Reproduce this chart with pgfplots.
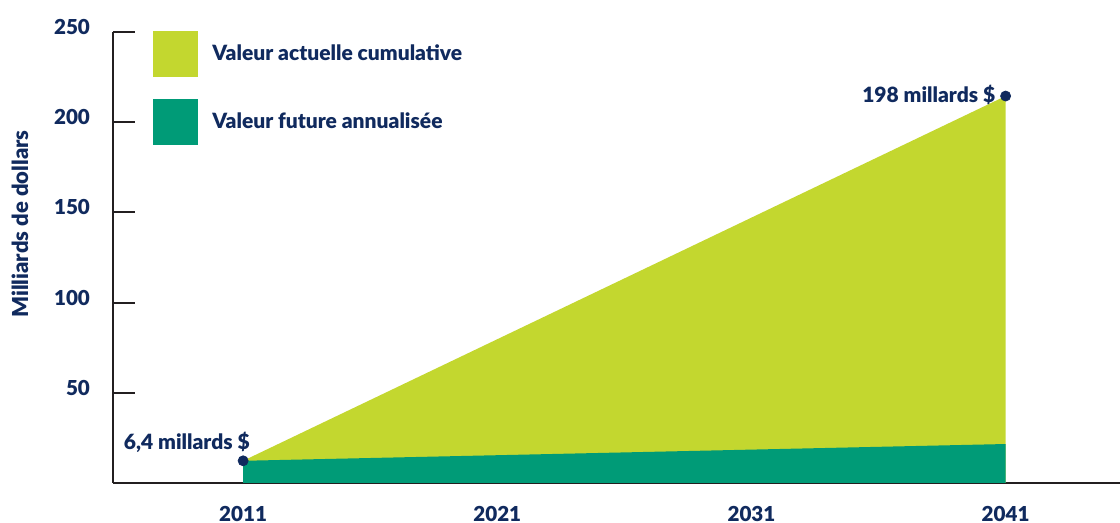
\documentclass[border=0pt]{standalone}
\usepackage{pgfplots}
\pgfplotsset{compat=1.18}
\usepackage{fontspec}
\setmainfont{Lato}[BoldFont={Lato Black}]
\definecolor{lime}{HTML}{C3D72F}
\definecolor{teal}{HTML}{009B77}
\definecolor{navy}{HTML}{102A5E}
\definecolor{axisgray}{HTML}{231F20}
\begin{document}
\begin{tikzpicture}
\useasboundingbox (-56.5pt,-20pt) rectangle (503.5pt,241.5pt);
\begin{axis}[
  at={(0,0)}, anchor=south west,
  scale only axis, width=503.5pt, height=225.5pt,
  xmin=2005.88, xmax=2045.5, ymin=0, ymax=250,
  enlargelimits=false,
  axis lines*=left,
  axis line style={axisgray, line width=1pt},
  clip=false,
  tick align=inside,
  major tick length=11pt,
  ytick={50,100,150,200,250},
  ytick style={axisgray, line width=1pt},
  xtick={2011,2021,2031,2041},
  xticklabels={2011,2021,2031,2041},
  xtick style={draw=none},
  /pgf/number format/assume math mode=true,
  ticklabel style={font=\fontsize{10.3}{12}\selectfont\bfseries, text=navy},
  yticklabel style={xshift=-8pt, yshift=2.5pt},
  xticklabel style={yshift=-8pt},
  ylabel={Milliards de dollars},
  ylabel style={at={(axis description cs:-0.0923,0.574)}, anchor=center,
    font=\fontsize{11}{12}\selectfont\bfseries, text=navy},
]
\addplot[fill=lime, draw=none] coordinates {(2011,0) (2011,12.3) (2041,214.5) (2041,0)} -- cycle;
\addplot[fill=teal, draw=none] coordinates {(2011,0) (2011,12.3) (2041,21.6) (2041,0)} -- cycle;
\addplot[only marks, mark=*, mark size=2.5pt, navy] coordinates {(2011,12.3) (2041,214.5)};
\node[anchor=base east, inner sep=0pt, xshift=3.5pt, yshift=5.5pt, text=navy,
  font=\fontsize{10.5}{12}\selectfont\bfseries] at (axis cs:2011,12.3) {6,4 millards \$};
\node[anchor=base east, inner sep=0pt, xshift=-5pt, yshift=-3pt, text=navy,
  font=\fontsize{10.5}{12}\selectfont\bfseries] at (axis cs:2041,214.5) {198 millards \$};
\end{axis}
% legend
\fill[lime] (20pt,226pt) rectangle (42.5pt,203pt);
\fill[teal] (20pt,192pt) rectangle (42.5pt,169pt);
\node[anchor=west, inner sep=0pt, text=navy, font=\fontsize{10.5}{12}\selectfont\bfseries]
  at (49.5pt,215pt) {Valeur actuelle cumulative};
\node[anchor=west, inner sep=0pt, text=navy, font=\fontsize{10.5}{12}\selectfont\bfseries]
  at (49.5pt,181pt) {Valeur future annualisée};
\end{tikzpicture}
\end{document}
